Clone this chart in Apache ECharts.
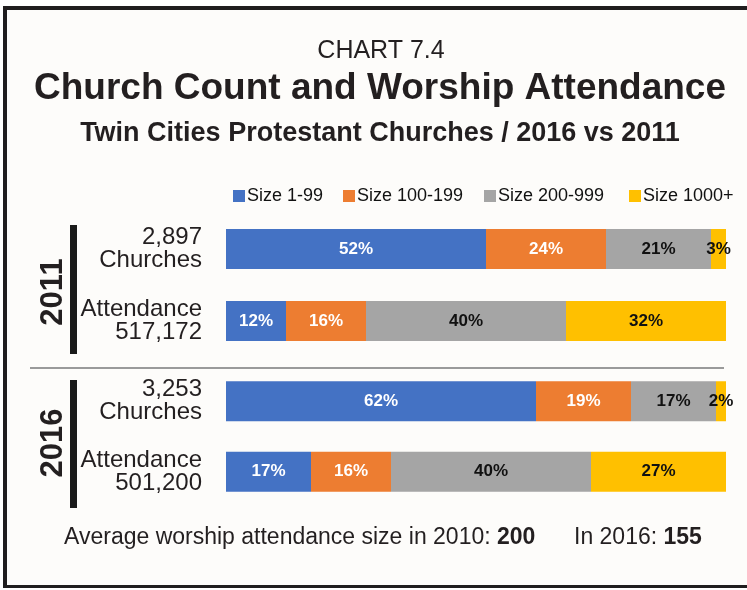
<!DOCTYPE html>
<html>
<head>
<meta charset="utf-8">
<title>Church Count and Worship Attendance</title>
<script src="https://cdn.jsdelivr.net/npm/echarts@6/dist/echarts.min.js"></script>
<style>
  html, body { margin: 0; padding: 0; background: #ffffff; }
  #chart { width: 747px; height: 590px; }
</style>
</head>
<body>
<div id="chart"></div>
<script>
// 数据
const sizes = ['Size 1-99', 'Size 100-199', 'Size 200-999', 'Size 1000+'];
const years = ['2011', '2016'];
const rows2011 = ['2,897\nChurches', 'Attendance\n517,172'];
const rows2016 = ['3,253\nChurches', 'Attendance\n501,200'];
const churches2011 = [52, 24, 21, 3];
const attendance2011 = [12, 16, 40, 32];
const churches2016 = [62, 19, 17, 2];
const attendance2016 = [17, 16, 40, 27];
const avgSize = [['2010', 200], ['2016', 155]];

const colors = ['#4472C4', '#ED7D31', '#A5A5A5', '#FFC000'];
const labelColors = ['#ffffff', '#ffffff', '#111111', '#111111'];
const sans = '"Liberation Sans", Arial, Helvetica, sans-serif';
const ink = '#231f20';

const chart = echarts.init(document.getElementById('chart'), null, { renderer: 'canvas' });

const groups = [
  { rows: rows2011, churches: churches2011, attendance: attendance2011, top: 213, height: 144 },
  { rows: rows2016, churches: churches2016, attendance: attendance2016, top: 366, height: 141 }
];

const grid = groups.map(g => ({ left: 226, right: 21, top: g.top, height: g.height }));

const xAxis = groups.map((g, gi) => ({
  type: 'value', gridIndex: gi, min: 0, max: 100, show: false
}));

const yAxis = groups.map((g, gi) => ({
  type: 'category',
  gridIndex: gi,
  inverse: true,
  data: g.rows,
  axisLine: { show: false },
  axisTick: { show: false },
  splitLine: { show: false },
  axisLabel: {
    margin: 24,
    color: ink,
    fontFamily: sans,
    fontSize: 24,
    lineHeight: 23,
    align: 'right'
  }
}));

const series = [];
groups.forEach((g, gi) => {
  sizes.forEach((name, i) => {
    series.push({
      name,
      type: 'bar',
      stack: 'g' + gi,
      xAxisIndex: gi,
      yAxisIndex: gi,
      barWidth: 40,
      itemStyle: { color: colors[i] },
      label: {
        show: true,
        position: 'inside',
        formatter: '{c}%',
        color: labelColors[i],
        fontFamily: sans,
        fontWeight: 'bold',
        fontSize: 17
      },
      data: [g.churches[i], g.attendance[i]]
    });
  });
});

// 图例：每项单独定位
const legendLeft = [233, 343, 484, 629];
const legend = sizes.map((name, i) => ({
  left: legendLeft[i],
  top: 187,
  padding: 0,
  itemWidth: 12,
  itemHeight: 12,
  itemGap: 0,
  icon: 'rect',
  textStyle: { fontFamily: sans, fontSize: 18, color: '#111111', padding: [0, 0, 0, -3] },
  data: [name]
}));

// 年份标签和黑色竖线
const yearMarks = [];
[[225, 354, 292], [380, 508, 443]].forEach(([y0, y1, yc], i) => {
  yearMarks.push({
    type: 'rect',
    shape: { x: 70, y: y0, width: 7, height: y1 - y0 },
    style: { fill: '#1a1a1a' }
  });
  yearMarks.push({
    type: 'text',
    x: 53, y: yc,
    rotation: Math.PI / 2,
    style: {
      text: years[i],
      font: 'bold 31px ' + sans,
      fill: ink,
      align: 'center',
      verticalAlign: 'middle'
    }
  });
});

const option = {
  backgroundColor: '#ffffff',
  animation: false,
  legend,
  grid,
  xAxis,
  yAxis,
  series,
  graphic: [
    // 背景与边框
    { type: 'rect', z: -10, shape: { x: 3, y: 6, width: 744, height: 582 }, style: { fill: '#fdfcfa' } },
    { type: 'rect', shape: { x: 3, y: 6, width: 744, height: 4 }, style: { fill: '#1f1d1e' } },
    { type: 'rect', shape: { x: 3, y: 6, width: 4, height: 582 }, style: { fill: '#1f1d1e' } },
    { type: 'rect', shape: { x: 3, y: 585, width: 744, height: 3 }, style: { fill: '#1f1d1e' } },
    // 分隔线
    { type: 'rect', shape: { x: 30, y: 367, width: 694, height: 2 }, style: { fill: '#9a9a9a' } },
    // 标题
    {
      type: 'text', x: 381, y: 51,
      style: { text: 'CHART 7.4', font: '25px ' + sans, fill: ink, align: 'center', verticalAlign: 'middle' }
    },
    {
      type: 'text', x: 380, y: 89,
      style: { text: 'Church Count and Worship Attendance', font: 'bold 37px ' + sans, fill: ink, align: 'center', verticalAlign: 'middle' }
    },
    {
      type: 'text', x: 380, y: 134,
      style: { text: 'Twin Cities Protestant Churches / 2016 vs 2011', font: 'bold 27px ' + sans, fill: ink, align: 'center', verticalAlign: 'middle' }
    },
    ...yearMarks,
    // 底部说明
    {
      type: 'text', x: 64, y: 538,
      style: {
        text: 'Average worship attendance size in ' + avgSize[0][0] + ': {b|' + avgSize[0][1] + '}',
        font: '23px ' + sans, fill: ink, verticalAlign: 'middle',
        rich: { b: { fontFamily: sans, fontSize: 23, fontWeight: 'bold', fill: ink } }
      }
    },
    {
      type: 'text', x: 574, y: 538,
      style: {
        text: 'In ' + avgSize[1][0] + ': {b|' + avgSize[1][1] + '}',
        font: '23px ' + sans, fill: ink, verticalAlign: 'middle',
        rich: { b: { fontFamily: sans, fontSize: 23, fontWeight: 'bold', fill: ink } }
      }
    }
  ]
};

chart.setOption(option);

window.addEventListener('resize', () => chart.resize());
</script>
</body>
</html>
